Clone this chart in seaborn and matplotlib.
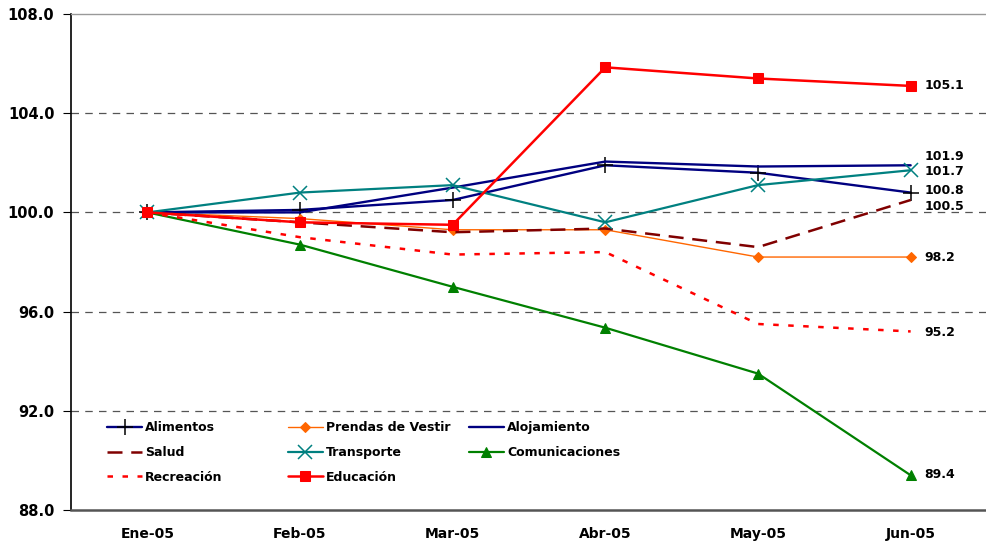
import seaborn as sns
import matplotlib.pyplot as plt
from matplotlib.legend import Legend

# Data
months = ["Ene-05", "Feb-05", "Mar-05", "Abr-05", "May-05", "Jun-05"]
alimentos = [100.0, 100.1, 100.5, 101.9, 101.6, 100.8]
prendas = [100.0, 99.75, 99.3, 99.3, 98.2, 98.2]
alojamiento = [100.0, 100.0, 101.0, 102.05, 101.85, 101.9]
salud = [100.0, 99.6, 99.2, 99.35, 98.6, 100.5]
transporte = [100.0, 100.8, 101.1, 99.6, 101.1, 101.7]
comunicaciones = [100.0, 98.7, 97.0, 95.35, 93.5, 89.4]
recreacion = [100.0, 99.0, 98.3, 98.4, 95.5, 95.2]
educacion = [100.0, 99.6, 99.5, 105.85, 105.4, 105.1]

series = {
    "Alimentos": alimentos,
    "Prendas de Vestir": prendas,
    "Alojamiento": alojamiento,
    "Salud": salud,
    "Transporte": transporte,
    "Comunicaciones": comunicaciones,
    "Recreación": recreacion,
    "Educación": educacion,
}

# Line styles per series
styles = {
    "Alimentos": dict(color="#000080", lw=1.7, marker="+", ms=11, mec="black", mew=1.1),
    "Prendas de Vestir": dict(color="#FF6600", lw=1.0, marker="D", ms=5, mec="#FF6600"),
    "Alojamiento": dict(color="#000080", lw=1.7),
    "Salud": dict(color="#800000", lw=1.8, dashes=(6, 3.5)),
    "Transporte": dict(color="#008080", lw=1.6, marker="x", ms=10, mew=1.1, mec="#008080"),
    "Comunicaciones": dict(color="#008000", lw=1.6, marker="^", ms=7, mec="#008000"),
    "Recreación": dict(color="#FF0000", lw=1.8, dashes=(2.2, 3.8)),
    "Educación": dict(color="#FF0000", lw=1.8, marker="s", ms=7, mec="#FF0000"),
}

# end label vertical offsets (pixels)
label_dy = {"Educación": 0, "Alojamiento": 9, "Transporte": -1, "Alimentos": 2,
            "Salud": -7, "Prendas de Vestir": 0, "Recreación": -1, "Comunicaciones": 1}

sns.set_style("white")
plt.rcParams["font.family"] = ["DejaVu Sans"]
plt.rcParams["text.color"] = "black"
plt.rcParams["xtick.color"] = "black"
plt.rcParams["ytick.color"] = "black"

fig = plt.figure(figsize=(9.87, 5.41), dpi=100)
ax = fig.add_axes([71 / 987, 1 - 510 / 541, 1 - 71 / 987, (510 - 14) / 541])

x = list(range(len(months)))
handles = {}
for name, vals in series.items():
    st = dict(styles[name])
    dashes = st.pop("dashes", None)
    sns.lineplot(x=x, y=vals, ax=ax, label=name, **st)
    line = ax.lines[-1]
    if dashes:
        line.set_dashes(dashes)
    handles[name] = line
    ax.annotate(f"{vals[-1]:.1f}", xy=(x[-1], vals[-1]),
                xytext=(14, label_dy[name]), textcoords="offset pixels",
                va="center", ha="left", fontsize=9, fontweight="bold", color="black")

ax.set_xlim(-0.5, 5.43)
ax.set_ylim(88, 108)
ax.set_yticks([88, 92, 96, 100, 104, 108])
ax.set_yticklabels([f"{v:.1f}" for v in [88, 92, 96, 100, 104, 108]],
                   fontsize=10.5, fontweight="bold")
ax.set_xticks(x)
ax.set_xticklabels(months, fontsize=10, fontweight="bold")
ax.set_xticks([i - 0.5 for i in x] + [5.5], minor=True)
ax.tick_params(axis="x", which="major", length=0, pad=12)
ax.tick_params(axis="x", which="minor", length=5, color="black", direction="out")
ax.tick_params(axis="y", length=6, color="black", direction="out", left=True, pad=6)
for yv in [92, 96, 100, 104]:
    ax.axhline(yv, color="#555555", lw=0.9, dashes=(6, 5), zorder=0)
ax.set_xlabel("")
ax.set_ylabel("")

ax.spines["right"].set_visible(False)
ax.spines["left"].set_color("black")
ax.spines["left"].set_linewidth(1.2)
ax.spines["bottom"].set_color("#555555")
ax.spines["bottom"].set_linewidth(1.8)
ax.spines["top"].set_color("#999999")
ax.spines["top"].set_linewidth(1)

ax.get_legend().remove()

# Legend in three columns, row-major order as in the reference
columns = [["Alimentos", "Salud", "Recreación"],
           ["Prendas de Vestir", "Transporte", "Educación"],
           ["Alojamiento", "Comunicaciones"]]
col_x = [107, 288, 469]
for names, cx in zip(columns, col_x):
    leg = Legend(ax, [handles[n] for n in names], names, loc="upper left",
                 bbox_to_anchor=(cx / 987, 1 - 421 / 541),
                 bbox_transform=fig.transFigure, frameon=False,
                 borderpad=0, borderaxespad=0, handlelength=2.8,
                 handletextpad=0.25, labelspacing=0.95,
                 prop=dict(size=9, weight="bold"))
    ax.add_artist(leg)

plt.savefig("out.png", dpi=100)
